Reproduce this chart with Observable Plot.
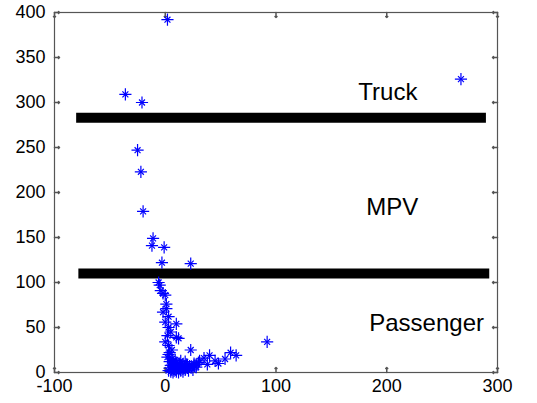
<!DOCTYPE html>
<html>
<head>
<meta charset="utf-8">
<script src="https://cdn.jsdelivr.net/npm/d3@7"></script>
<script src="https://cdn.jsdelivr.net/npm/@observablehq/plot@0.6"></script>
<style>
  html, body { margin: 0; padding: 0; background: #fff; }
  svg { display: block; }
</style>
</head>
<body>
<div id="chart"></div>
<script>
// Scatter data
const xs = [2, -36, -21, 267, -25, -22, -20, -11, -12, -1, -3, 23,
  -6, -5, -2, 0, 1, -2, 3, 0, 10, 3, 2, 10, 0, 6, 23, 2, 7, -4, 1, 5, 12, 3, 4,
  92, 40, 59, 64, 54, 45, 38, 31, 26, 35, 28, 48, 20,
  3, 4, 5, 6, 7, 8, 9, 10, 11, 12, 13, 14, 15, 16, 17, 18, 19, 20, 22, 24, 26, 28, 30,
  5, 8, 10, 13, 4, 6, 3, 7, 12, 16, 21, 25, 9, 14, 18];
const ys = [392, 309, 300, 326, 247, 223, 179, 149, 141, 139, 122, 121,
  100, 97, 88, 86, 76, 67, 62, 56, 54, 50, 41, 39, 34, 25, 25, 17, 13, 91, 71, 45, 38, 30, 22,
  34, 19, 22, 19, 15, 13, 9, 13, 10, 16, 6, 10, 8,
  2, 5, 1, 3, 6, 2, 4, 1, 7, 3, 5, 2, 8, 4, 6, 3, 9, 5, 7, 6, 8, 9, 11,
  8, 9, 11, 10, 12, 15, 20, 0, 0, 1, 2, 3, 14, 13, 12];

// Class boundary lines
const boundY = [283, 110];
const boundX1 = [-80, -78];
const boundX2 = [290, 293];

// Region labels
const labelText = ["Truck", "MPV", "Passenger"];
const labelX = [201, 205, 236];
const labelY = [311, 183, 55];

// Axis ticks
const xTicks = [-100, 0, 100, 200, 300];
const yTicks = [0, 50, 100, 150, 200, 250, 300, 350, 400];

const points = xs.map((x, i) => ({x, y: ys[i]}));
const bounds = boundY.map((y, i) => ({y, x1: boundX1[i], x2: boundX2[i]}));
const labels = labelText.map((t, i) => ({t, x: labelX[i], y: labelY[i]}));

const axisColor = "#555";

const chart = Plot.plot({
  width: 537,
  height: 403,
  marginLeft: 54,
  marginRight: 40,
  marginTop: 12,
  marginBottom: 31,
  style: {fontFamily: "'Liberation Sans', Arial, sans-serif", fontSize: "18px", color: "#000", background: "#fff"},
  x: {domain: [-100, 300], ticks: xTicks, label: null},
  y: {domain: [0, 400], ticks: yTicks, label: null},
  marks: [
    Plot.frame({stroke: axisColor, strokeWidth: 1.2}),
    Plot.vector(xTicks, {x: d => d, frameAnchor: "bottom", length: 5, rotate: 0, anchor: "start", stroke: axisColor}),
    Plot.vector(xTicks, {x: d => d, frameAnchor: "top", length: 5, rotate: 180, anchor: "start", stroke: axisColor}),
    Plot.vector(yTicks, {y: d => d, frameAnchor: "left", length: 5, rotate: 90, anchor: "start", stroke: axisColor}),
    Plot.vector(yTicks, {y: d => d, frameAnchor: "right", length: 5, rotate: -90, anchor: "start", stroke: axisColor}),
    Plot.axisX({ticks: xTicks, tickSize: 0, tickPadding: 7, fontSize: 18, label: null, tickFormat: d => String(d)}),
    Plot.axisY({ticks: yTicks, tickSize: 0, tickPadding: 9, fontSize: 18, label: null, tickFormat: d => String(d)}),
    Plot.ruleY(bounds, {y: "y", x1: "x1", x2: "x2", stroke: "#000", strokeWidth: 10}),
    Plot.text(labels, {x: "x", y: "y", text: "t", fontSize: 24, fill: "#000", textAnchor: "middle"}),
    Plot.dot(points, {x: "x", y: "y", symbol: "plus", r: 4, stroke: "#0000ff", strokeWidth: 1.2}),
    Plot.dot(points, {x: "x", y: "y", symbol: "times", r: 2.8, stroke: "#0000ff", strokeWidth: 1.2})
  ]
});
document.getElementById("chart").appendChild(chart);
</script>
</body>
</html>
